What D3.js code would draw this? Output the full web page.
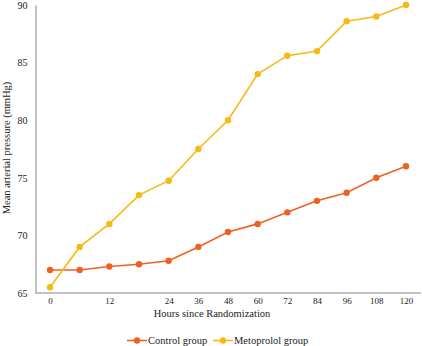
<!DOCTYPE html>
<html>
<head>
<meta charset="utf-8">
<script src="https://cdn.jsdelivr.net/npm/d3@7"></script>
<style>
  html, body { margin: 0; padding: 0; background: #fff; }
  svg { display: block; }
  text { font-family: "Liberation Serif", "DejaVu Serif", serif; fill: #222; }
</style>
</head>
<body>
<svg id="chart" width="422" height="346"></svg>
<script>
// Time points (hours since randomization); 6 h and 18 h are unlabeled on the axis
const hours = ["0", "6", "12", "18", "24", "36", "48", "60", "72", "84", "96", "108", "120"];
const hourLabels = ["0", "", "12", "", "24", "36", "48", "60", "72", "84", "96", "108", "120"];
const controlMAP = [67, 67, 67.3, 67.5, 67.8, 69, 70.3, 71, 72, 73, 73.7, 75, 76];
const metoprololMAP = [65.5, 69, 71, 73.5, 74.75, 77.5, 80, 84, 85.6, 86, 88.6, 89, 90];
const yTicks = [65, 70, 75, 80, 85, 90];

const seriesNames = ["Control group", "Metoprolol group"];
const seriesColors = ["#ee6124", "#f8b915"];
const seriesValues = [controlMAP, metoprololMAP];

const svg = d3.select("#chart");
const axisColor = "#a9b1b3";

const x = d3.scalePoint().domain(hours).range([50, 406]);
const y = d3.scaleLinear().domain([65, 90]).range([293, 5]);

// Y axis: line with labels only
const yAxis = svg.append("g").attr("transform", "translate(35.5,0)")
  .call(d3.axisLeft(y).tickValues(yTicks).tickSize(0).tickPadding(8));
yAxis.select(".domain").attr("stroke", axisColor).attr("stroke-width", 1.5);
yAxis.selectAll("text").style("font-size", "10px").attr("fill", "#222")
  .style("font-family", "'Liberation Serif', serif");

// X axis
const xAxis = svg.append("g").attr("transform", "translate(0,293)")
  .call(d3.axisBottom(x).tickSize(0).tickPadding(5)
    .tickFormat((d, i) => hourLabels[i]));
xAxis.select(".domain").attr("d", "M35.5,0H421").attr("stroke", axisColor).attr("stroke-width", 1.5);
xAxis.selectAll("text").style("font-size", "9px").attr("fill", "#222")
  .style("font-family", "'Liberation Serif', serif");

// Axis titles
svg.append("text")
  .attr("x", 212).attr("y", 316.5)
  .attr("text-anchor", "middle")
  .style("font-size", "10.5px")
  .text("Hours since Randomization");

svg.append("text")
  .attr("transform", "translate(10,148) rotate(-90)")
  .attr("text-anchor", "middle")
  .style("font-size", "10.5px")
  .text("Mean arterial pressure (mmHg)");

// Series lines and markers
const line = d3.line().x((d, i) => x(hours[i])).y(d => y(d));

seriesValues.forEach((vals, s) => {
  svg.append("path")
    .datum(vals)
    .attr("d", line)
    .attr("fill", "none")
    .attr("stroke", seriesColors[s])
    .attr("stroke-width", 1.6);
  svg.append("g").selectAll("circle")
    .data(vals)
    .join("circle")
    .attr("cx", (d, i) => x(hours[i]))
    .attr("cy", d => y(d))
    .attr("r", 3.2)
    .attr("fill", seriesColors[s]);
});

// Legend
const legendItems = [
  { name: seriesNames[0], color: seriesColors[0], x0: 127 },
  { name: seriesNames[1], color: seriesColors[1], x0: 213 }
];
const legend = svg.append("g").attr("transform", "translate(0,340.5)");
legendItems.forEach(item => {
  legend.append("line")
    .attr("x1", item.x0).attr("x2", item.x0 + 20)
    .attr("y1", 0).attr("y2", 0)
    .attr("stroke", item.color).attr("stroke-width", 1.6);
  legend.append("circle")
    .attr("cx", item.x0 + 10).attr("cy", 0).attr("r", 3.2)
    .attr("fill", item.color);
  legend.append("text")
    .attr("x", item.x0 + 21).attr("y", 3.5)
    .style("font-size", "10.5px")
    .text(item.name);
});
</script>
</body>
</html>
